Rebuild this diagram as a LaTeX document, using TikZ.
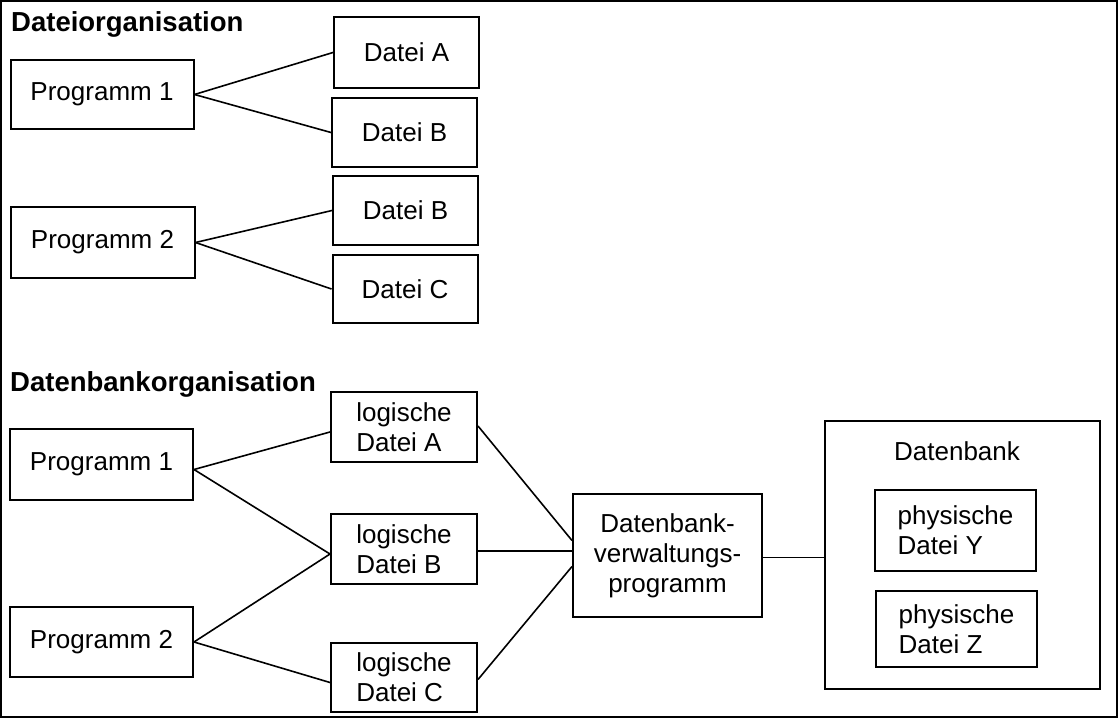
\documentclass[tikz,border=0pt]{standalone}
\usepackage{fontspec}
\setmainfont{Liberation Sans}
\usepackage{tikz}
\usepackage{xcolor}
\tikzset{
    plain-box/.style = {draw=black, fill=white, line width=2pt, rectangle, inner sep=0pt, font=\fontsize{26}{30}\selectfont},
    prog-box/.style = {plain-box, minimum width=183pt, minimum height=70pt},
    file-box/.style = {plain-box, minimum width=145pt, minimum height=70pt, align=left},
    phys-box/.style = {plain-box, minimum width=161pt, align=left},
    section-title/.style = {anchor=base west, inner sep=0pt, font=\fontsize{27.5}{30}\selectfont\bfseries},
    link/.style = {draw=black, line width=1.6pt},
}

\begin{document}
\begin{tikzpicture}[x=1pt, y=-1pt]
\useasboundingbox (0,0) rectangle (1118,722);
\draw[line width=2pt] (1,1) rectangle (1117,717);
% Dateiorganisation
\node[section-title] (title-file) at (11,32) {Dateiorganisation};
\node[prog-box, minimum height=69pt] (prog1) at (102,94.5) {Programm 1};
\node[prog-box, minimum width=184pt, minimum height=71pt] (prog2) at (102.5,242.5) {Programm 2};
\node[file-box, minimum height=71pt] (dateiA) at (406.5,52.5) {Datei A};
\node[file-box, minimum height=69pt] (dateiB1) at (404.5,132.5) {Datei B};
\node[file-box, minimum height=69pt] (dateiB2) at (405.5,210.5) {Datei B};
\node[file-box, minimum height=68pt] (dateiC) at (405,289) {Datei C};
\draw[link] (prog1.east) -- (dateiA.west);
\draw[link] (prog1.east) -- (dateiB1.west);
\draw[link] (prog2.east) -- (dateiB2.west);
\draw[link] (prog2.east) -- (dateiC.west);
% Datenbankorganisation
\node[section-title] (title-db) at (10,391) {Datenbankorganisation};
\node[prog-box, minimum height=71pt] (bprog1) at (101.5,464.5) {Programm 1};
\node[prog-box] (bprog2) at (101.5,642) {Programm 2};
\node[file-box, minimum width=146pt] (logA) at (404,427) {logische\\Datei A};
\node[file-box, minimum width=146pt] (logB) at (404,549) {logische\\Datei B};
\node[file-box, minimum width=146pt, minimum height=69pt] (logC) at (404,677.5) {logische\\Datei C};
\node[plain-box, minimum width=189pt, minimum height=123pt, align=center] (dvp) at (667.5,555.5) {Datenbank-\\verwaltungs-\\programm};
\node[plain-box, minimum width=275pt, minimum height=268pt] (dbank) at (962.5,555) {};
\node[inner sep=0pt, font=\fontsize{26}{30}\selectfont] (dbank-label) at (957,451) {Datenbank};
\node[phys-box, minimum height=81pt] (physY) at (955.5,530.5) {physische\\Datei Y};
\node[phys-box, minimum height=76pt] (physZ) at (956.5,629) {physische\\Datei Z};
\draw[link] ([yshift=-5pt]bprog1.east) -- ([yshift=-5pt]logA.west);
\draw[link] ([yshift=-5pt]bprog1.east) -- ([yshift=-5pt]logB.west);
\draw[link] (bprog2.east) -- ([yshift=-5pt]logB.west);
\draw[link] (bprog2.east) -- ([yshift=-5pt]logC.west);
\draw[link] ([yshift=1pt]logA.east) -- ([yshift=15pt]dvp.west);
\draw[link] ([yshift=-2pt]logB.east) -- ([yshift=-2pt]logB.east -| dvp.west);
\draw[link] ([yshift=-2pt]logC.east) -- ([yshift=-11pt]dvp.west);
\draw[link] ([yshift=-2pt]dvp.east) -- ([yshift=-2pt]dvp.east -| dbank.west);
\end{tikzpicture}
\end{document}
